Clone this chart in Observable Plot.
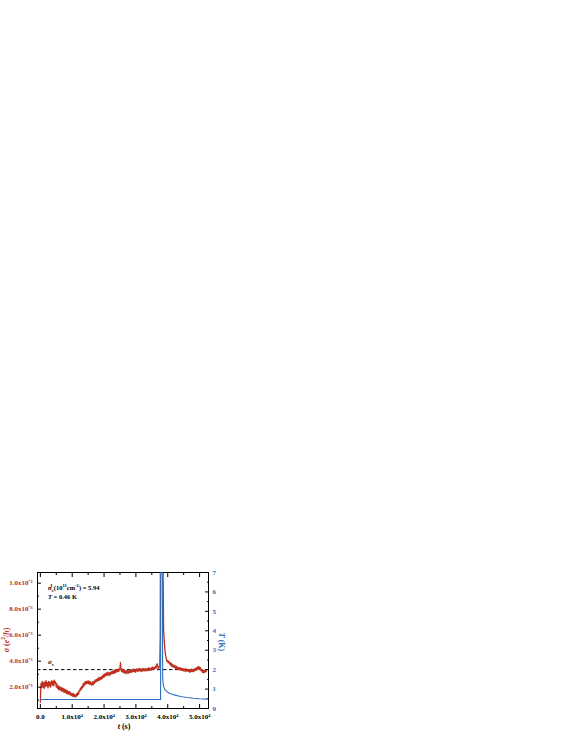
<!DOCTYPE html>
<html>
<head>
<meta charset="utf-8">
<script src="https://cdn.jsdelivr.net/npm/d3@7"></script>
<script src="https://cdn.jsdelivr.net/npm/@observablehq/plot@0.6"></script>
<style>
  html, body { margin: 0; padding: 0; background: #fff; }
  #wrap { position: relative; width: 567px; height: 733px; overflow: hidden; }
  #wrap svg { position: absolute; left: 0; top: 0; background: transparent; }
  .lbl { position: absolute; white-space: nowrap; line-height: 1; font-family: "Liberation Serif", "Times New Roman", serif; font-weight: bold; }
  .lbl sup, .lbl sub { font-size: 70%; line-height: 0; }
</style>
</head>
<body>
<div id="wrap"></div>
<script>
// ---- data ----
const sigmaTime = [0,100,200,
400,600,800,1000,1200,1400,1600,1800,2000,2200,2400,2600,2800,3000,3200,3400,3600,3800,4000,4200,4400,4600,4800,
5000,5200,5400,5600,5800,6000,6200,6400,6600,6800,7000,7200,7400,7600,7800,8000,8200,8400,8600,8800,
9000,9200,9400,9600,9800,10000,10200,10400,10600,10800,11000,11200,11400,11600,11800,12000,12200,12400,12600,12800,
13000,13200,13400,13600,13800,14000,14200,14400,14600,14800,15000,15200,15400,15600,15800,16000,16200,16400,16600,16800,
17000,17200,17400,17600,17800,18000,18200,18400,18600,18800,19000,19200,19400,19600,19800,20000,20200,20400,20600,20800,
21000,21200,21400,21600,21800,22000,22200,22400,22600,22800,23000,23200,23400,23600,23800,24000,24200,24400,24600,24800,
25000,25150,25300,
25500,25700,25900,26100,26300,26500,26700,26900,27100,27300,27500,27700,27900,28100,28300,28500,28700,28900,29100,29300,
29500,29700,29900,30100,30300,30500,30700,30900,31100,31300,31500,31700,31900,32100,32300,32500,32700,32900,33100,33300,
33500,33700,33900,34100,34300,34500,34700,34900,35100,35300,35500,35700,35900,36100,36300,36500,36700,36900,37100,37300,
37500,37650,37700,38500,
38700,38900,39100,39300,39500,39700,39900,40100,40300,40500,40700,40900,41100,41300,41500,41700,41900,42100,42300,42500,
42700,42900,43100,43300,43500,43700,43900,44100,44300,44500,44700,44900,45100,45300,45500,45700,45900,46100,46300,46500,
46700,46900,47100,47300,47500,47700,47900,48100,48300,48500,48700,48900,49100,49300,49500,49700,49900,50100,50300,50500,
50700,50900,51100,51300,51500,51700,51900,52100];
const sigmaValue = [0.00085,0.0017,0.0023,
0.00195,0.00245,0.002,0.00235,0.0019,0.0024,0.00205,0.0025,0.0021,0.00235,0.00195,0.00245,0.0021,0.0024,0.002,0.00235,0.0025,0.00215,0.00245,0.0021,0.00255,0.0023,0.0024,
0.002,0.00225,0.0019,0.0021,0.0018,0.00205,0.0018,0.002,0.0017,0.00195,0.0017,0.0019,0.0016,0.00185,0.0016,0.0018,0.0015,0.00175,0.0015,0.00165,
0.00145,0.00165,0.0014,0.00155,0.00135,0.0015,0.0013,0.0015,0.00125,0.00145,0.0013,0.00125,0.0015,0.00135,0.0016,0.00145,0.00175,0.0017,0.00195,0.0018,
0.00205,0.00195,0.00225,0.00205,0.00235,0.0022,0.00245,0.00225,0.00245,0.0023,0.0025,0.00225,0.00245,0.0022,0.0024,0.00225,0.00215,0.0024,0.0022,0.00245,
0.0023,0.00255,0.0024,0.0026,0.00245,0.00265,0.0025,0.00275,0.00255,0.00275,0.0026,0.0028,0.00265,0.0029,0.00275,0.003,0.0028,0.00305,0.0029,0.0031,
0.0029,0.00315,0.00295,0.0031,0.0029,0.00315,0.003,0.0032,0.00305,0.00325,0.00305,0.0033,0.0031,0.00335,0.00315,0.00335,0.0032,0.0034,0.0032,0.00335,
0.00345,0.0039,0.00335,
0.0032,0.0034,0.00315,0.00335,0.0031,0.0033,0.00305,0.00325,0.0031,0.0033,0.00305,0.00325,0.0031,0.0033,0.00315,0.00335,0.00315,0.00335,0.0032,0.0034,
0.0032,0.00335,0.00315,0.00335,0.0034,0.0032,0.0034,0.00325,0.00345,0.00325,0.0034,0.0032,0.0034,0.00325,0.00345,0.00325,0.0034,0.00325,0.00345,0.0033,
0.00325,0.00345,0.0033,0.0035,0.0033,0.00345,0.0033,0.0035,0.00335,0.00355,0.00335,0.0035,0.00345,0.0036,0.00345,0.0037,0.0038,0.00355,0.0034,0.00355,
0.0036,0.006,0.012,0.012,
0.0064,0.0056,0.0049,0.0045,0.00425,0.004,0.00405,0.0039,0.004,0.0038,0.0039,0.0037,0.00385,0.0036,0.00375,0.00355,0.0037,0.0035,0.00365,0.00345,
0.0036,0.0034,0.00355,0.00335,0.0035,0.00335,0.0035,0.0033,0.00345,0.0033,0.00345,0.00325,0.0034,0.00325,0.0034,0.0032,0.0034,0.00325,0.00335,0.0032,
0.00335,0.00315,0.00335,0.0032,0.0034,0.0032,0.00335,0.0032,0.0034,0.00325,0.00345,0.0033,0.0035,0.00335,0.0036,0.0034,0.00355,0.00335,0.0035,0.00325,
0.00335,0.00315,0.0033,0.0031,0.0033,0.00315,0.0033,0.0032];
const tempTime = [0,37750,37800,38300,38400,38600,39000,39500,40500,42000,44000,46000,48000,50000,52300];
const tempValue = [0.46,0.46,7.5,7.5,1.6,1.2,1.0,0.9,0.78,0.7,0.62,0.57,0.53,0.5,0.48];
const sigmaS = 0.00335;

const xMajor = [0,10000,20000,30000,40000,50000];
const xMajorLabels = ["0.0","1.0x10\u2074","2.0x10\u2074","3.0x10\u2074","4.0x10\u2074","5.0x10\u2074"];
const xMinor = [5000,15000,25000,35000,45000];
const sigmaMajor = [0.002,0.004,0.006,0.008,0.010];
const sigmaMajorLabels = ["2.0x10\u207B\u00B3","4.0x10\u207B\u00B3","6.0x10\u207B\u00B3","8.0x10\u207B\u00B3","1.0x10\u207B\u00B2"];
const sigmaMinor = [0.001,0.003,0.005,0.007,0.009];
const tempMajor = [0,1,2,3,4,5,6,7];
const tempMinor = [0.5,1.5,2.5,3.5,4.5,5.5,6.5];

const RED = "#c0301f";
const BLUE = "#2f6fc0";

const sigmaData = sigmaTime.map((t, i) => ({t, v: sigmaValue[i]}));
const tempData = tempTime.map((t, i) => ({t, v: tempValue[i]}));

const xDomain = [-900, 52800];
const common = {
  width: 567, height: 733,
  marginLeft: 37, marginRight: 359, marginTop: 572, marginBottom: 25,
  style: {background: "transparent", fontFamily: "Liberation Serif, serif", fontWeight: "bold", fontSize: "7px"}
};
const xLab = new Map(xMajor.map((d, i) => [d, xMajorLabels[i]]));
const sLab = new Map(sigmaMajor.map((d, i) => [d, sigmaMajorLabels[i]]));

const p1 = Plot.plot({
  ...common,
  x: {domain: xDomain},
  y: {domain: [0.00036, 0.01082]},
  marks: [
    Plot.ruleY([sigmaS], {stroke: "#000", strokeWidth: 1, strokeDasharray: "3.5,2.5"}),
    Plot.line(sigmaData, {x: "t", y: "v", stroke: RED, strokeWidth: 1.3, clip: true}),
    Plot.frame({stroke: "#000", strokeWidth: 1}),
    Plot.axisX(xMajor, {anchor: "bottom", tickSize: -4, tickFormat: () => "", label: null}),
    Plot.axisX(xMinor, {anchor: "bottom", tickSize: -2, tickFormat: () => "", label: null}),
    Plot.axisX(xMajor, {anchor: "top", tickSize: -4, tickFormat: () => "", label: null}),
    Plot.axisX(xMinor, {anchor: "top", tickSize: -2, tickFormat: () => "", label: null}),
    Plot.axisX(xMajor, {anchor: "bottom", tickSize: 0, tickPadding: 6, tickFormat: d => xLab.get(d), label: null, fill: "#000"}),
    Plot.axisY(sigmaMajor, {anchor: "left", tickSize: -4, tickFormat: () => "", label: null}),
    Plot.axisY(sigmaMinor, {anchor: "left", tickSize: -2, tickFormat: () => "", label: null}),
    Plot.axisY(sigmaMajor, {anchor: "left", tickSize: 0, tickPadding: 5, tickFormat: d => sLab.get(d), label: null, fill: RED})
  ]
});

const p2 = Plot.plot({
  ...common,
  x: {domain: xDomain, axis: null},
  y: {domain: [0, 7]},
  marks: [
    Plot.line(tempData, {x: "t", y: "v", stroke: BLUE, strokeWidth: 1.1, clip: true}),
    Plot.axisY(tempMajor, {anchor: "right", tickSize: -4, tickFormat: () => "", label: null}),
    Plot.axisY(tempMinor, {anchor: "right", tickSize: -2, tickFormat: () => "", label: null}),
    Plot.axisY(tempMajor, {anchor: "right", tickSize: 0, tickPadding: 4, tickFormat: d => String(d), label: null, fill: BLUE})
  ]
});

const wrap = document.getElementById("wrap");
wrap.appendChild(p1);
wrap.appendChild(p2);

function addLabel(html, left, top, css) {
  const el = document.createElement("div");
  el.className = "lbl";
  el.innerHTML = html;
  el.style.left = left + "px";
  el.style.top = top + "px";
  Object.assign(el.style, css || {});
  wrap.appendChild(el);
  return el;
}
addLabel("<i>\u03C3</i> (<i>e</i><sup>2</sup>/<i>h</i>)", 7, 640, {transform: "translate(-50%,-50%) rotate(-90deg)", color: RED, fontSize: "8px"});
addLabel("<i>T</i> (K)", 221, 642, {transform: "translate(-50%,-50%) rotate(90deg)", color: BLUE, fontSize: "8px"});
addLabel("<i>t</i> (s)", 124, 727, {transform: "translate(-50%,-50%)", color: "#000", fontSize: "8px"});
addLabel("<i>n</i><sub style='position:relative'>s</sub><sup style='margin-left:-3px'>I</sup> (10<sup>11</sup>cm<sup>-2</sup>) = 5.94", 48, 588, {transform: "translate(0,-50%)", color: "#000", fontSize: "6.5px"});
addLabel("<i>T</i> = 0.46 K", 48, 597, {transform: "translate(0,-50%)", color: "#000", fontSize: "6.5px"});
addLabel("<i>\u03C3</i><sub>s</sub>", 48, 662, {transform: "translate(0,-50%)", color: "#000", fontSize: "7px"});
</script>
</body>
</html>
